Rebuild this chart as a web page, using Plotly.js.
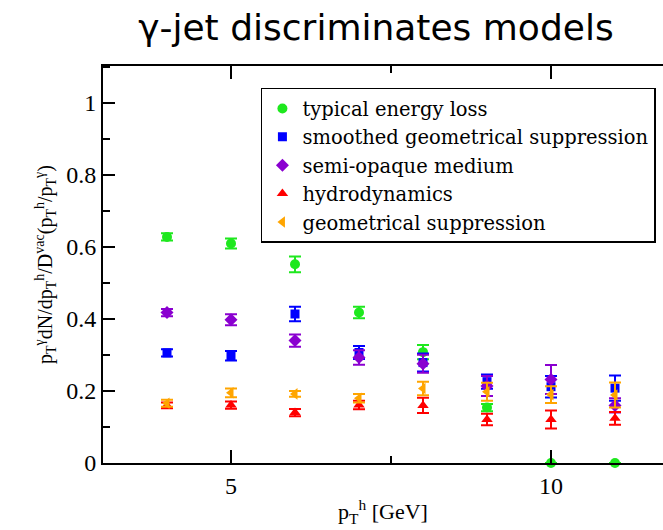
<!DOCTYPE html>
<html>
<head>
<meta charset="utf-8">
<script src="https://cdn.plot.ly/plotly-3.0.1.min.js"></script>
<style>
  html, body { margin: 0; padding: 0; background: #fff; overflow: hidden; }
  #chart { width: 663px; height: 530px; }
</style>
</head>
<body>
<div id="chart"></div>
<script>
// Hadron transverse momentum bins (GeV)
const ptBins = [4, 5, 6, 7, 8, 9, 10, 11];

// Model names
const modelNames = [
  "typical energy loss",
  "smoothed geometrical suppression",
  "semi-opaque medium",
  "hydrodynamics",
  "geometrical suppression"
];

// Ratio values per model
const typicalLoss      = [0.628, 0.610, 0.552, 0.418, 0.308, 0.154, 0.0, 0.0];
const smoothedGeom     = [0.306, 0.298, 0.414, 0.307, 0.279, 0.226, 0.212, 0.208];
const semiOpaque       = [0.418, 0.398, 0.340, 0.293, 0.276, 0.214, 0.232, 0.160];
const hydrodynamics    = [0.160, 0.161, 0.140, 0.161, 0.160, 0.121, 0.121, 0.124];
const geomSuppression  = [0.166, 0.195, 0.192, 0.180, 0.207, 0.198, 0.190, 0.189];

// Symmetric uncertainties
const typicalLossErr     = [0.010, 0.014, 0.022, 0.016, 0.020, 0.010, 0.0, 0.0];
const smoothedGeomErr    = [0.010, 0.013, 0.020, 0.018, 0.025, 0.020, 0.030, 0.035];
const semiOpaqueErr      = [0.010, 0.015, 0.017, 0.020, 0.025, 0.028, 0.040, 0.020];
const hydrodynamicsErr   = [0.008, 0.010, 0.010, 0.012, 0.021, 0.016, 0.025, 0.018];
const geomSuppressionErr = [0.010, 0.012, 0.008, 0.012, 0.019, 0.025, 0.023, 0.035];

// Axis tick labels
const yTickVals = [0, 0.2, 0.4, 0.6, 0.8, 1];
const yTickText = ["0", "0.2", "0.4", "0.6", "0.8", "1"];
const xTickVals = [5, 10];
const xTickText = ["5", "10"];

const seriesValues = [typicalLoss, smoothedGeom, semiOpaque, hydrodynamics, geomSuppression];
const seriesErrors = [typicalLossErr, smoothedGeomErr, semiOpaqueErr, hydrodynamicsErr, geomSuppressionErr];
const seriesColors = ["#1ee81e", "#0000ff", "#8a00d0", "#ff0000", "#ffa500"];
const seriesSymbols = ["circle", "square", "diamond", "triangle-up", "triangle-left"];
const seriesSizes = [10, 9, 10, 10, 10];

const traces = modelNames.map((name, i) => ({
  type: "scatter",
  mode: "markers",
  name: name,
  x: ptBins,
  y: seriesValues[i],
  marker: { color: seriesColors[i], symbol: seriesSymbols[i], size: seriesSizes[i] },
  error_y: {
    type: "data",
    array: seriesErrors[i],
    visible: true,
    color: seriesColors[i],
    thickness: 2,
    width: 6
  },
  cliponaxis: false
}));

const serif = "Liberation Serif";

const layout = {
  width: 663,
  height: 530,
  margin: { l: 103, r: 0, t: 66, b: 67 },
  paper_bgcolor: "#ffffff",
  plot_bgcolor: "#ffffff",
  showlegend: true,
  title: {
    text: "γ-jet discriminates models",
    font: { family: "DejaVu Sans", size: 36, color: "#000" },
    x: 0.567,
    xanchor: "center",
    y: 0.948,
    yanchor: "middle"
  },
  xaxis: {
    range: [3, 11.75],
    tickvals: xTickVals,
    ticktext: xTickText,
    ticks: "inside",
    ticklen: 13,
    tickwidth: 2,
    tickcolor: "#000",
    minor: { dtick: 2.5, tick0: 0, ticks: "inside", ticklen: 7, tickwidth: 2, tickcolor: "#000" },
    showline: true,
    linecolor: "#000",
    linewidth: 2,
    mirror: "ticks",
    showgrid: false,
    zeroline: false,
    tickfont: { family: serif, size: 24, color: "#000" },
    title: {
      text: "p<sub>T</sub><sup>h</sup> [GeV]",
      font: { family: serif, size: 22, color: "#000" },
      standoff: 6
    }
  },
  yaxis: {
    range: [0, 1.103],
    tickvals: yTickVals,
    ticktext: yTickText,
    ticks: "inside",
    ticklen: 12,
    tickwidth: 2,
    tickcolor: "#000",
    minor: { dtick: 0.1, tick0: 0, ticks: "inside", ticklen: 7, tickwidth: 2, tickcolor: "#000" },
    showline: true,
    linecolor: "#000",
    linewidth: 2,
    mirror: false,
    showgrid: false,
    zeroline: false,
    tickfont: { family: serif, size: 24, color: "#000" },
    title: {
      text: "p<sub>T</sub><sup>γ</sup>dN/dp<sub>T</sub><sup>h</sup>/D<sup>vac</sup>(p<sub>T</sub><sup>h</sup>/p<sub>T</sub><sup>γ</sup>)",
      font: { family: serif, size: 20, color: "#000" },
      standoff: 8
    }
  },
  legend: {
    x: 0.282,
    y: 0.945,
    xanchor: "left",
    yanchor: "top",
    bgcolor: "#ffffff",
    bordercolor: "#000",
    borderwidth: 1.5,
    font: { family: "DejaVu Serif", size: 19.5, color: "#000" },
    itemwidth: 30,
    tracegroupgap: 0
  }
};

Plotly.newPlot("chart", traces, layout, { displayModeBar: false, staticPlot: true });
</script>
</body>
</html>
